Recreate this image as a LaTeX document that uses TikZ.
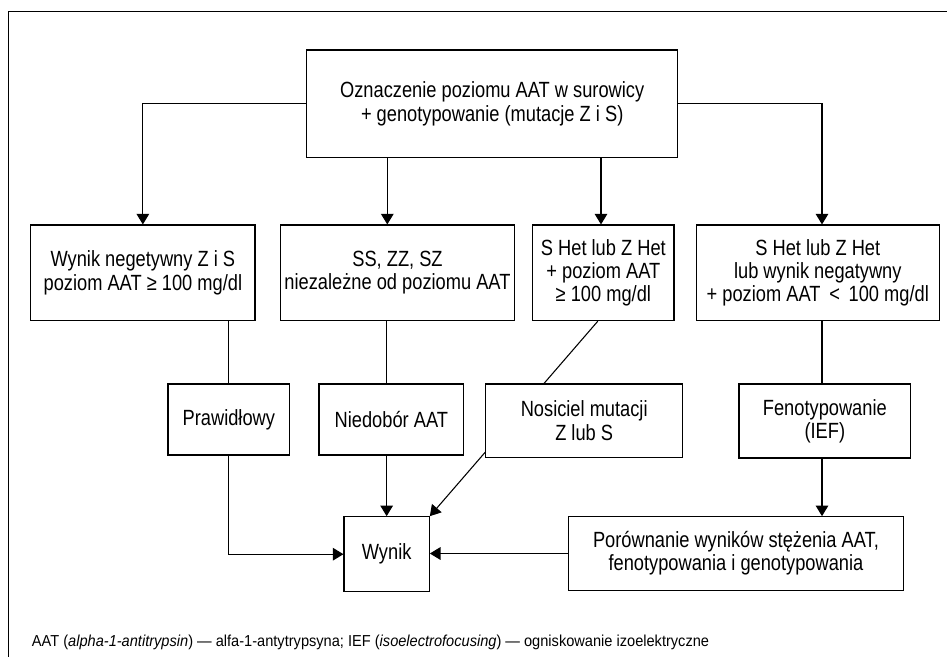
\documentclass[tikz,border=0pt]{standalone}
\usepackage{fontspec}
\setmainfont{Liberation Sans}[FakeStretch=0.83]
\newfontfamily\footfont{Liberation Sans}[FakeStretch=0.92]
\usetikzlibrary{arrows.meta,calc}
\newcommand\mainfs{\fontsize{16.5}{17.5}\selectfont}
\newcommand\footfs{\footfont\fontsize{11.9}{13}\selectfont}
\begin{document}
\begin{tikzpicture}[x=0.75pt,y=-0.75pt,
  box/.style={draw,line width=0.8pt,align=center,inner sep=2pt,font=\mainfs},
  arr/.style={line width=0.8pt,-{Triangle[length=8pt,width=9.5pt]}},
  ln/.style={line width=0.8pt}]
\useasboundingbox (0,0) rectangle (947,657);
\draw[line width=0.8pt] (947,11.7) -- (8.7,11.7) -- (8.7,657);

\node[box,minimum width=278.25pt,minimum height=80.8pt] (top) at (492.2,103.85)
  {Oznaczenie poziomu AAT w surowicy\\+ genotypowanie (mutacje Z i S)};
\node[box,minimum width=168.2pt,minimum height=71.8pt] (b1) at (142.85,272.85)
  {Wynik negetywny Z i S\\poziom AAT ≥ 100 mg/dl};
\node[box,minimum width=175.2pt,minimum height=71.8pt] (b2) at (397.5,272.85)
  {SS, ZZ, SZ\\niezależne od poziomu AAT};
\node[box,minimum width=106pt,minimum height=71.8pt] (b3) at (603.35,272.85)
  {S Het lub Z Het\\+ poziom AAT\\≥ 100 mg/dl};
\node[box,minimum width=182.25pt,minimum height=71.8pt] (b4) at (817.8,272.85)
  {S Het lub Z Het\\lub wynik negatywny\\+ poziom AAT \,<\, 100 mg/dl};
\node[box,minimum width=91.3pt,minimum height=53.25pt] (praw) at (228.85,419.5) {Prawidłowy};
\node[box,minimum width=108.5pt,minimum height=53.25pt] (nied) at (391.35,419.5) {Niedobór AAT};
\node[box,minimum width=147.75pt,minimum height=55pt] (nos) at (584.2,420.65) {Nosiciel mutacji\\Z lub S};
\node[box,minimum width=128.8pt,minimum height=55.5pt] (fen) at (824.85,421) {Fenotypowanie\\(IEF)};
\node[box,minimum width=64pt,minimum height=56.25pt] (wynik) at (386.65,554.2) {Wynik};
\node[box,minimum width=251.55pt,minimum height=55.2pt] (por) at (736,553.5)
  {Porównanie wyników stężenia AAT,\\fenotypowania i genotypowania};

\node[anchor=base west,inner sep=0,font=\footfs] (note) at (31.7,646.7)
  {AAT (\textit{alpha-1-antitrypsin}) — alfa-1-antytrypsyna; IEF (\textit{isoelectrofocusing}) — ogniskowanie izoelektryczne};

\coordinate (b2in) at ($(b2.north)+(-10.2,0)$);
\coordinate (b3in) at ($(b3.north)+(-2.35,0)$);
\coordinate (b4in) at ($(b4.north)+(4.2,0)$);
\draw[arr] (top.west) -| (b1.north);
\draw[arr] (b2in |- top.south) -- (b2in);
\draw[arr] (b3in |- top.south) -- (b3in);
\draw[arr] (top.east) -| (b4in);

\draw[ln] (praw.north |- b1.south) -- (praw.north);
\draw[ln] (wynik.north |- b2.south) -- (wynik.north |- nied.north);
\draw[arr] (wynik.north |- nied.south) -- (wynik.north);
\draw[ln] ($(b3.south)+(-5.6,0)$) -- ($(nos.north)+(-40.2,0)$);
\draw[arr] ($(nos.south west)+(0,-5.6)$) -- (wynik.north east);
\coordinate (fx) at ($(b4.south)+(4.2,0)$);
\draw[ln] (fx) -- (fx |- fen.north);
\draw[arr] (fx |- fen.south) -- (fx |- por.north);
\draw[arr] (praw.south) |- (wynik.west);
\draw[arr] (por.west) -- (por.west -| wynik.east);
\end{tikzpicture}
\end{document}
